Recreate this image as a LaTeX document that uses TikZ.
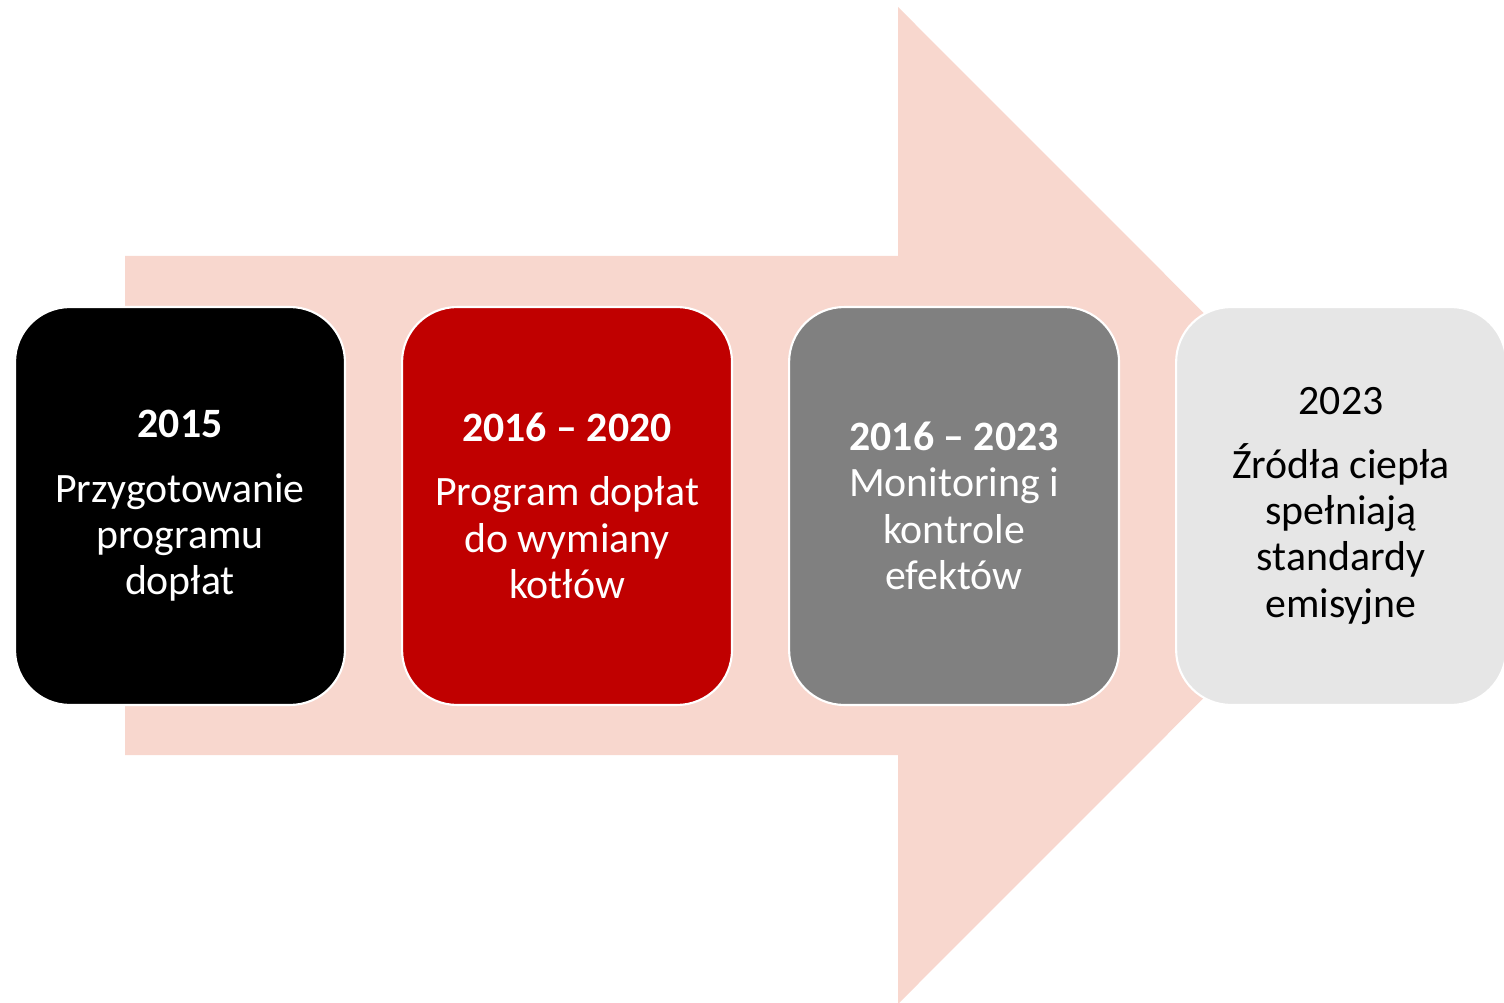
\documentclass[tikz,border=0pt]{standalone}
\usepackage{fontspec}
\setmainfont{Carlito}
\usetikzlibrary{positioning}
\definecolor{arrowpink}{RGB}{248,215,206}
\definecolor{boxred}{RGB}{192,0,0}
\definecolor{boxgray}{RGB}{128,128,128}
\definecolor{boxlight}{RGB}{230,230,230}
\tikzset{%
  % Specifications for style of nodes:
	base/.style = {draw=white, line width=1.2pt, rounded corners=1.1cm, align=center,
                   minimum width=6.6cm, minimum height=7.96cm, inner sep=0pt,
                   font=\fontsize{23.8pt}{26.4pt}\selectfont},
	start/.style = {base, fill=black, text=white},
	program/.style = {base, fill=boxred, text=white},
	monitor/.style = {base, fill=boxgray, text=white},
	goal/.style = {base, fill=boxlight, text=black},
}

\begin{document}
\begin{tikzpicture}[
x=0.02cm, y=-0.02cm,        % one unit is one pixel of the page
node distance=1.1cm,        % Global setup of box spacing
]
  \useasboundingbox (0,0) rectangle (1504,1003);
  % The big arrow behind the boxes
  \fill [arrowpink] (125,256) -- (898,256) -- (898,7) -- (1396,505.5)
        -- (898,1004) -- (898,755) -- (125,755) -- cycle;

  % Specification of nodes (position, etc.)
  \node (prep) [start] at (180,506)
        {\textbf{2015}\\[0.36cm] Przygotowanie\\ programu\\ dopłat};
  \node (subsidy) [program, right=of prep]
        {\textbf{2016 – 2020}\\[0.36cm] Program dopłat\\ do wymiany\\ kotłów};
  \node (control) [monitor, right=of subsidy]
        {\textbf{2016 – 2023}\\ Monitoring i\\ kontrole\\ efektów};
  \node (result) [goal, right=of control]
        {2023\\[0.34cm] Źródła ciepła\\ spełniają\\ standardy\\ emisyjne};
\end{tikzpicture}
\end{document}
